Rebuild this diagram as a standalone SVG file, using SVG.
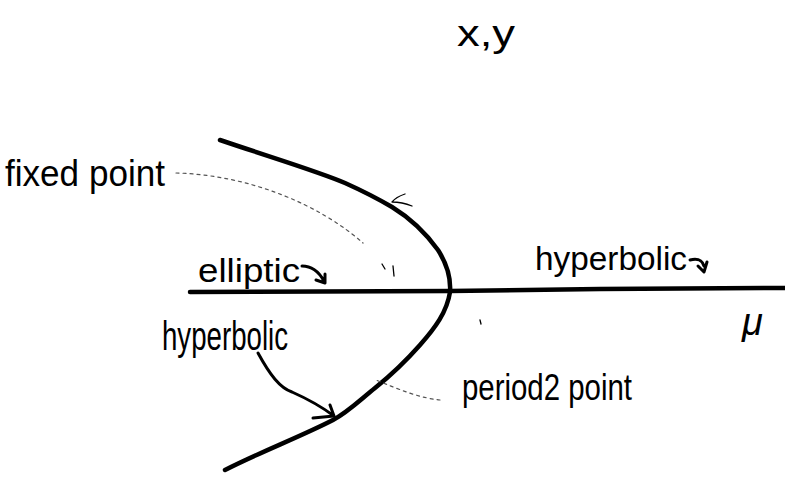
<svg xmlns="http://www.w3.org/2000/svg" width="785" height="479" viewBox="0 0 785 479">
<style>
.t{font-family:"Liberation Sans",Arial,sans-serif;fill:#000}
.thick{fill:none;stroke:#000;stroke-width:4.5;stroke-linecap:round;stroke-linejoin:round}
.med{fill:none;stroke:#000;stroke-width:3;stroke-linecap:round;stroke-linejoin:round}
.thin{fill:none;stroke:#000;stroke-width:1.3;stroke-linecap:round;stroke-linejoin:round}
.dot{fill:none;stroke:#555;stroke-width:1.2;stroke-dasharray:3 4;stroke-linecap:round}
</style>
<rect width="785" height="479" fill="#fff"/>
<g id="axes">
<path class="thick" d="M190 292 L450 291 L600 289 L785 288"/>
<path class="thick" d="M220 140 C270 157 320 172 345 183 C365 192 380 200 392 207 C410 218 425 232 438 250 C447 264 451 278 450 292 C447 312 435 328 420 345 C405 362 390 376 375 388 C360 400 348 412 333 420 C300 437 260 452 225 470"/>
</g>
<g id="labels">
<text class="t" x="457" y="46" font-size="36" textLength="58" lengthAdjust="spacingAndGlyphs">x,y</text>
<text class="t" x="5" y="186" font-size="37" textLength="160" lengthAdjust="spacingAndGlyphs">fixed point</text>
<text class="t" x="198" y="282" font-size="34" textLength="102" lengthAdjust="spacingAndGlyphs">elliptic</text>
<text class="t" x="535" y="270" font-size="34" textLength="152" lengthAdjust="spacingAndGlyphs">hyperbolic</text>
<text class="t" x="162" y="350" font-size="40" textLength="126" lengthAdjust="spacingAndGlyphs">hyperbolic</text>
<text class="t" x="462" y="400" font-size="37" textLength="170" lengthAdjust="spacingAndGlyphs">period2 point</text>
<text class="t" x="742" y="335" font-size="38" font-style="italic">μ</text>
</g>
<g id="connectors">
<path class="dot" d="M176 173 C250 175 320 205 363 243"/>
<path class="thin" d="M382 264 L385 269 M393 266 L394 276"/>
<path class="thin" d="M405 194 Q396 197 392 202 Q402 202 412 206"/>
<path class="med" d="M302 266 C312 266 319 272 324 281 M316 280 L325 283 L325 274"/>
<path class="med" d="M690 260 C698 258 702 260 704 266 M698 266 L704 272 L707 262"/>
<path class="med" d="M258 353 C270 375 280 388 292 392 C310 400 322 407 334 416 M313 418 L334 416 L330 405"/>
<path class="dot" d="M440 400 C420 398 400 390 376 380"/>
<path class="thin" d="M480 320 L481 324"/>
</g>
</svg>
